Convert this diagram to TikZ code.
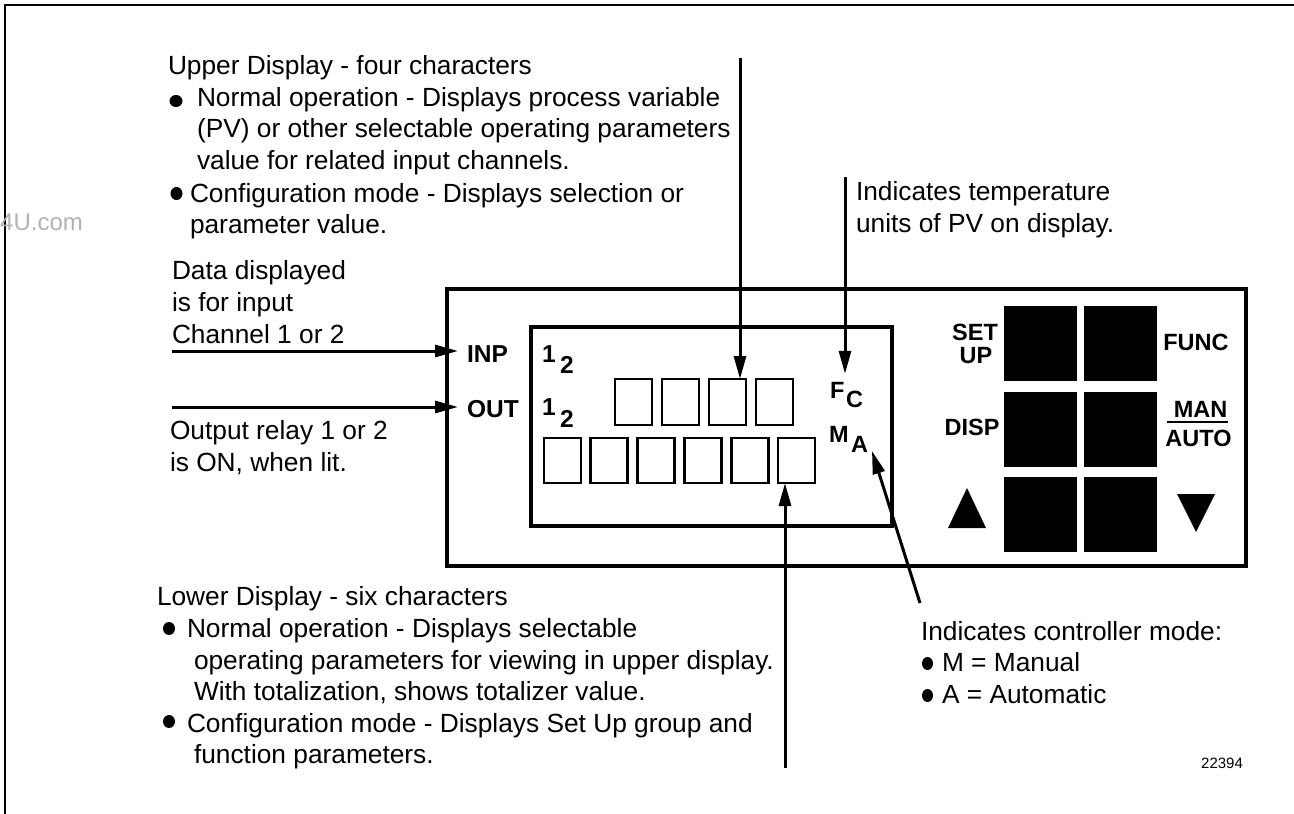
\documentclass[tikz,border=0pt]{standalone}
\usepackage{fontspec}
\setmainfont{Liberation Sans}
\usetikzlibrary{arrows.meta,calc}
\begin{document}
\begin{tikzpicture}[x=1pt,y=-1pt,
  txt/.style={anchor=base west,inner sep=0pt,outer sep=0pt,font=\fontsize{26.3}{32}\selectfont},
  lbl/.style={anchor=base west,inner sep=0pt,outer sep=0pt,font=\fontsize{24.5}{24.5}\selectfont\bfseries},
  klbl/.style={anchor=base,inner sep=0pt,outer sep=0pt,font=\fontsize{23.5}{23.5}\selectfont\bfseries},
  ilbl/.style={anchor=base west,inner sep=0pt,outer sep=0pt,font=\fontsize{23.5}{23.5}\selectfont\bfseries},
  arr/.style={line width=3pt,-{Triangle[length=23pt,width=12pt]}},
  digit/.style={draw,line width=2.7pt,minimum width=37pt,minimum height=46pt,inner sep=0pt,outer sep=0pt},
  keybox/.style={fill=black,minimum width=73pt,minimum height=75pt,inner sep=0pt},
  bul/.style={fill=black},
]
\useasboundingbox (0,0) rectangle (1294,814);
% outer frame (top and left edges)
\draw[line width=2.2pt] (5,814) -- (5,5) -- (1294,5);
\node[anchor=base west,inner sep=0pt,text=black!30,font=\fontsize{24}{24}\selectfont] (wm) at (0,230) {4U.com};

% panel
\node[draw,line width=3.2pt,minimum width=799pt,minimum height=277pt,inner sep=0pt] (panel) at (846.5,427.5) {};
\node[draw,line width=3.2pt,minimum width=361pt,minimum height=199pt,inner sep=0pt] (disp) at (711.5,426.5) {};

% upper digits
\node[digit] (u1) at (633.5,402) {};
\node[digit] (u2) at (680.5,402) {};
\node[digit] (u3) at (727.5,402) {};
\node[digit] (u4) at (774.5,402) {};
% lower digits
\node[digit,minimum height=45pt] (l1) at (562.5,460.5) {};
\node[digit,minimum height=45pt] (l2) at (609.3,460.5) {};
\node[digit,minimum height=45pt] (l3) at (656.1,460.5) {};
\node[digit,minimum height=45pt] (l4) at (702.9,460.5) {};
\node[digit,minimum height=45pt] (l5) at (749.7,460.5) {};
\node[digit,minimum height=45pt] (l6) at (796.5,460.5) {};

% panel labels
\node[lbl] (inp) at (467,362) {INP};
\node[lbl] (out) at (467,417) {OUT};
\node[lbl] (i1) at (542,362) {1};
\node[lbl] (i2) at (560,373) {2};
\node[lbl] (o1) at (542,415) {1};
\node[lbl] (o2) at (560,427) {2};
\node[ilbl] (fF) at (830,398) {F};
\node[ilbl] (fC) at (846,407) {C};
\node[ilbl] (mM) at (829,442) {M};
\node[ilbl] (mA) at (851,452) {A};

% keys
\node[keybox] (k11) at (1040.5,343.5) {};
\node[keybox] (k12) at (1120.5,343.5) {};
\node[keybox] (k21) at (1040.5,429.5) {};
\node[keybox] (k22) at (1120.5,429.5) {};
\node[keybox] (k31) at (1040.5,514.5) {};
\node[keybox] (k32) at (1120.5,514.5) {};
\node[klbl] (set) at (975,340) {SET};
\node[klbl] (up) at (976,363) {UP};
\node[klbl] (func) at (1196,350) {FUNC};
\node[klbl] (dsp) at (972,435) {DISP};
\node[klbl] (man) at (1200.5,417) {MAN};
\node[klbl] (auto) at (1198.5,446) {AUTO};
\draw[line width=2.5pt] (1167,422) -- (1228,422);
\fill (948,528) -- (986,528) -- (967,488) -- cycle;
\fill (1177,494) -- (1215,494) -- (1196,532) -- cycle;

% upper display text
\node[txt] (ua) at (168,74) {Upper Display - four characters};
\fill[bul] (176,101) ellipse [x radius=6.5pt, y radius=6pt];
\node[txt] (ub) at (197,106) {Normal operation - Displays process variable};
\node[txt] (uc) at (197,137) {(PV) or other selectable operating parameters};
\node[txt] (ud) at (197,169) {value for related input channels.};
\fill[bul] (176.5,193.5) ellipse [x radius=6pt, y radius=6.5pt];
\node[txt] (ue) at (190,202) {Configuration mode - Displays selection or};
\node[txt] (uf) at (190,233) {parameter value.};

% input/output text
\node[txt] (da) at (172,279) {Data displayed};
\node[txt] (db) at (172,311) {is for input};
\node[txt] (dc) at (172,343) {Channel 1 or 2};
\node[txt] (oa) at (170,439) {Output relay 1 or 2};
\node[txt] (ob) at (170,471) {is ON, when lit.};

% temperature text
\node[txt] (ta) at (856,200) {Indicates temperature};
\node[txt] (tb) at (856,232) {units of PV on display.};

% lower display text
\node[txt] (la) at (157,605) {Lower Display - six characters};
\fill[bul] (169,628.5) ellipse [x radius=6pt, y radius=6.5pt];
\node[txt] (lb) at (187,637) {Normal operation - Displays selectable};
\node[txt] (lc) at (194,669) {operating parameters for viewing in upper display.};
\node[txt] (ld) at (194,700) {With totalization, shows totalizer value.};
\fill[bul] (169,721.5) ellipse [x radius=6pt, y radius=6.5pt];
\node[txt] (le) at (187,732) {Configuration mode - Displays Set Up group and};
\node[txt] (lf) at (194,763) {function parameters.};

% controller mode text
\node[txt] (ca) at (921,640) {Indicates controller mode:};
\fill[bul] (927.5,663.5) ellipse [x radius=5.5pt, y radius=6.5pt];
\node[txt] (cb) at (942,671) {M = Manual};
\fill[bul] (927.5,695.5) ellipse [x radius=5.5pt, y radius=6.5pt];
\node[txt] (cc) at (942,703) {A = Automatic};

\node[anchor=base west,inner sep=0pt,font=\fontsize{15}{15}\selectfont] (num) at (1201,768) {22394};

% connectors
\coordinate (upTop) at (740,58);
\draw[arr] (upTop) -- (upTop |- u3.north);
\coordinate (tempTop) at (845,177);
\draw[arr,shorten >=8pt] (tempTop) -- (tempTop |- fF.north);
\coordinate (loBot) at (785,768);
\draw[arr] (loBot) -- (loBot |- l6.south);
\coordinate (ctrlEnd) at (920,603);
\draw[arr] (ctrlEnd) -- ($(mA.south east)+(4,-1)$);
\coordinate (inpStart) at (172,351);
\draw[arr,shorten >=9pt] (inpStart) -- (inpStart -| inp.west);
\coordinate (outStart) at (172,407);
\draw[arr,shorten >=9pt] (outStart) -- (outStart -| out.west);
\end{tikzpicture}
\end{document}
